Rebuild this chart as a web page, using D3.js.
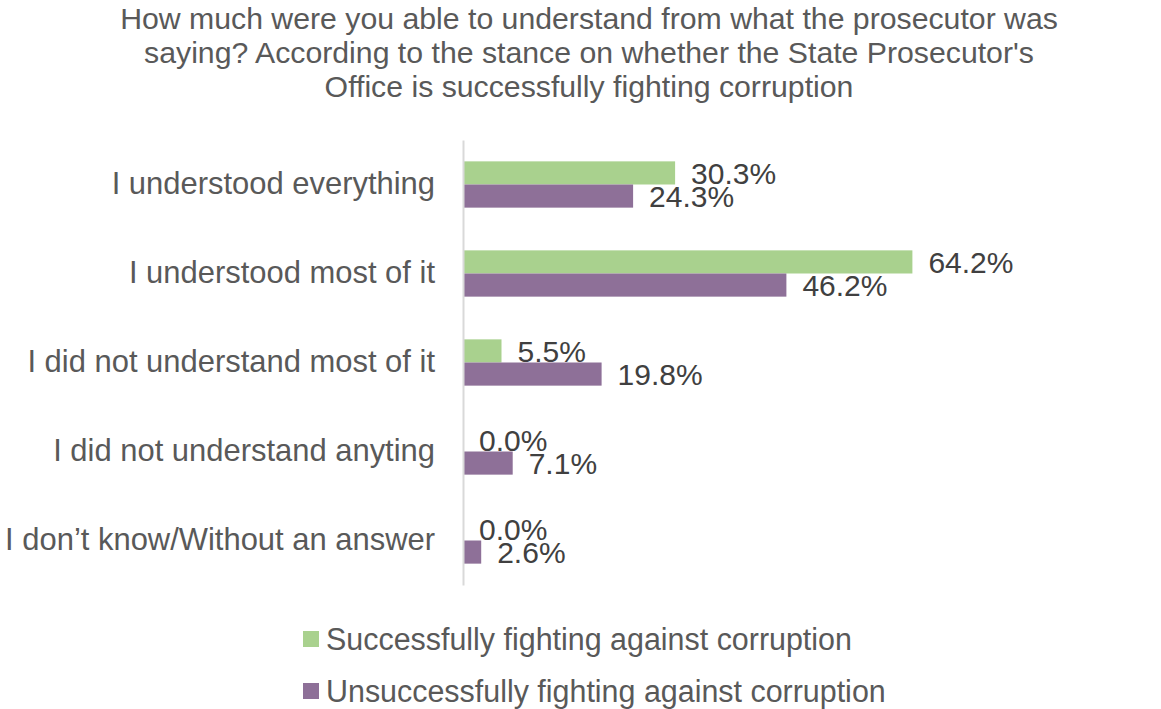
<!DOCTYPE html>
<html>
<head>
<meta charset="utf-8">
<script src="https://cdn.jsdelivr.net/npm/d3@7"></script>
<style>
  html, body { margin: 0; padding: 0; background: #fff; }
  svg { display: block; font-family: "Liberation Sans", Arial, sans-serif; }
</style>
</head>
<body>
<svg id="chart" width="1161" height="709"></svg>
<script>
const titleLines = [
  "How much were you able to understand from what the prosecutor was",
  "saying? According to the stance on whether the State Prosecutor's",
  "Office is successfully fighting corruption"
];
const categories = [
  "I understood everything",
  "I understood most of it",
  "I did not understand most of it",
  "I did not understand anyting",
  "I don\u2019t know/Without an answer"
];
const seriesNames = [
  "Successfully fighting against corruption",
  "Unsuccessfully fighting against corruption"
];
const successfully = [30.3, 64.2, 5.5, 0.0, 0.0];
const unsuccessfully = [24.3, 46.2, 19.8, 7.1, 2.6];
const seriesColors = ["#A9D18E", "#8E7098"];

(function () {
const svg = d3.select("#chart");
const axisX = 463, plotTop = 140, plotBottom = 585;

const x = d3.scaleLinear().domain([0, 70]).range([axisX, axisX + 490]);
const y = d3.scaleBand().domain(categories).range([plotTop, plotBottom]).paddingInner(0.48).paddingOuter(0.24);
const ySub = d3.scaleBand().domain(seriesNames).range([0, y.bandwidth()]);

const rows = categories.map((c, i) => ({ cat: c, vals: [successfully[i], unsuccessfully[i]] }));

function fit(sel, target) {
  const w = sel.node().getComputedTextLength();
  const fs = parseFloat(sel.attr("font-size"));
  return fs * target / w;
}

// Title
const tl = svg.append("g").selectAll("text").data(titleLines).join("text")
  .attr("x", 589).attr("y", (d, i) => 29 + i * 34)
  .attr("text-anchor", "middle").attr("fill", "#595959").attr("font-size", 27)
  .text(d => d);
const tfs = fit(d3.select(tl.nodes()[0]), 938);
tl.attr("font-size", tfs);

// Bars
const groups = svg.append("g").selectAll("g").data(rows).join("g")
  .attr("transform", d => `translate(0,${y(d.cat)})`);
groups.selectAll("rect").data(d => d.vals.map((v, k) => ({ v, k }))).join("rect")
  .attr("x", x(0))
  .attr("y", d => ySub(seriesNames[d.k]))
  .attr("width", d => x(d.v) - x(0))
  .attr("height", ySub.bandwidth())
  .attr("fill", d => seriesColors[d.k]);

// Value labels
groups.selectAll("text").data(d => d.vals.map((v, k) => ({ v, k }))).join("text")
  .attr("x", d => x(d.v) + 16)
  .attr("y", d => ySub(seriesNames[d.k]) + ySub.bandwidth() / 2)
  .attr("dy", "0.36em")
  .attr("fill", "#404040")
  .attr("font-size", 30)
  .text(d => d.v.toFixed(1) + "%");

// Category axis
const yAxis = d3.axisLeft(y).tickSize(0).tickPadding(28);
const ag = svg.append("g").attr("transform", `translate(${axisX},0)`).call(yAxis);
ag.select(".domain").attr("stroke", "#D9D9D9").attr("stroke-width", 2);
ag.selectAll(".tick text").attr("fill", "#595959").attr("font-size", 27)
  .attr("font-family", "\"Liberation Sans\", Arial, sans-serif");
const lastTick = ag.selectAll(".tick text").filter(d => d === categories[4]);
const cfs = fit(lastTick, 430);
ag.selectAll(".tick text").attr("font-size", cfs);

// Legend
const li = svg.append("g").selectAll("g").data(seriesNames).join("g")
  .attr("transform", (d, i) => `translate(303,${639 + i * 52})`);
li.append("rect").attr("x", 0).attr("y", -8).attr("width", 16).attr("height", 16)
  .attr("fill", (d, i) => seriesColors[i]);
const lt = li.append("text").attr("x", 23).attr("y", 0).attr("dy", "0.36em")
  .attr("fill", "#595959").attr("font-size", 27).text(d => d);
const lfs = fit(d3.select(lt.nodes()[1]), 560);
lt.attr("font-size", lfs);
})();
</script>
</body>
</html>
